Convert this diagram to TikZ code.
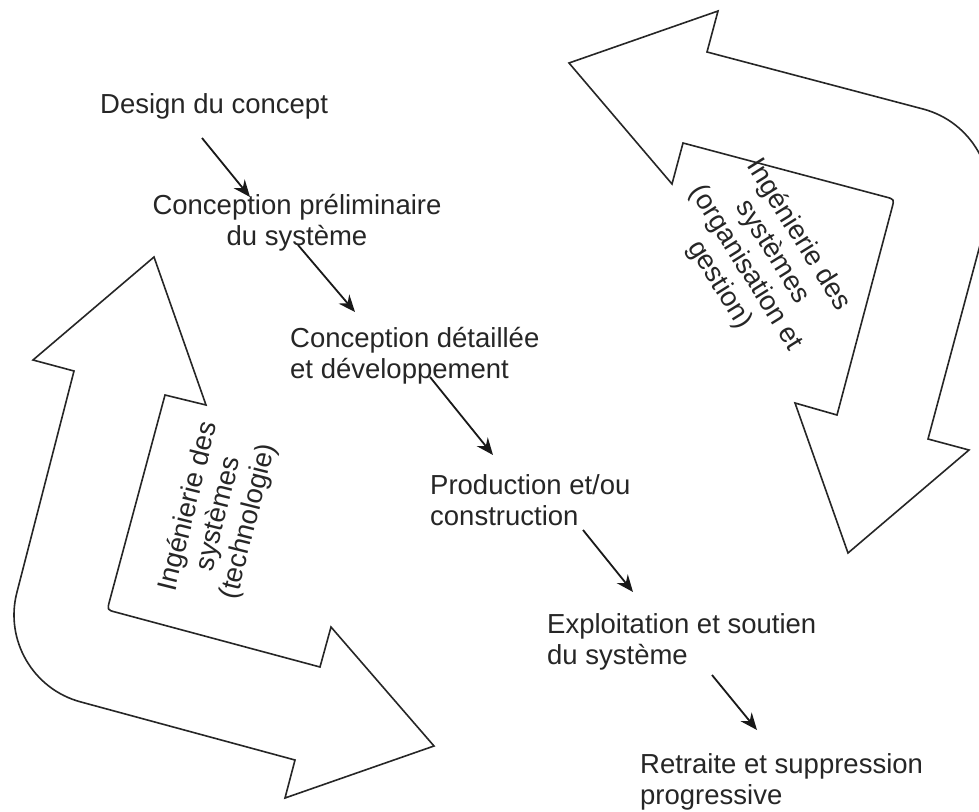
\documentclass[tikz,border=0pt]{standalone}
\usepackage{fontspec}
\setmainfont{Liberation Sans}
\usetikzlibrary{arrows.meta}
\begin{document}
\begin{tikzpicture}[x=1pt,y=-1pt,
  every node/.style={font=\fontsize{27.5}{31}\selectfont, text=black!85, inner sep=0pt},
  lbl/.style={anchor=base west, align=left},
  lblc/.style={anchor=base, align=center},
  bent/.style={draw=black!85, fill=white, line width=1.6pt, line join=miter},
  flow/.style={-{Stealth[length=17pt,width=14pt]}, line width=1.8pt, draw=black!90}]
\useasboundingbox (0,0) rectangle (979,811);
\clip (0,0) rectangle (979,811);
\fill[white] (0,0) rectangle (979,811);

% bent double arrow on the left (technology)
\draw[bent] (154,257) -- (206,405) -- (165,395) -- (109.5,601.2)
  .. controls (107.2,609.9) .. (115.9,612.2) -- (320,667) -- (331,627)
  -- (434,746) -- (285,798) -- (295,760) -- (81,702)
  .. controls (33,689.3) and (4.3,640) .. (17,592) -- (74,371) -- (33,360) -- cycle;

% bent double arrow on the right (organisation and management)
\draw[bent] (569,63) -- (718,11) -- (707,52) -- (923,109)
  .. controls (971,121.7) and (999.7,171) .. (987,219) -- (928,439) -- (969,450)
  -- (848,553) -- (795,403) -- (837,415) -- (892,207.9)
  .. controls (894.3,199.2) .. (885.6,196.9) -- (683,143) -- (672,184) -- cycle;

\node[align=center, rotate=76] (techno) at (219,514)
  {Ingénierie des\\systèmes\\(technologie)};
\node[align=center, rotate=-58] (orga) at (759,260)
  {Ingénierie des\\systèmes\\(organisation et\\gestion)};

% life-cycle phases (the base anchor sits on the last line)
\node[lbl] (design) at (100,113) {Design du concept};
\node[lblc] (prelim) at (297,245) {Conception préliminaire\\du système};
\node[lbl] (detail) at (290,378) {Conception détaillée\\et développement};
\node[lbl] (prod) at (430,525) {Production et/ou\\construction};
\node[lbl] (exploit) at (547,664) {Exploitation et soutien\\du système};
\node[lbl] (retrait) at (640,804) {Retraite et suppression\\progressive};

% phase transitions
\coordinate (a1s) at (202,138); \coordinate (a1e) at (250,197);
\coordinate (a2s) at (298,245); \coordinate (a2e) at (355,312);
\coordinate (a3s) at (430,377); \coordinate (a3e) at (493,455);
\coordinate (a4s) at (583,530); \coordinate (a4e) at (633,592);
\coordinate (a5s) at (712,675); \coordinate (a5e) at (757,730);
\draw[flow] (a1s) -- (a1e);
\draw[flow] (a2s) -- (a2e);
\draw[flow] (a3s) -- (a3e);
\draw[flow] (a4s) -- (a4e);
\draw[flow] (a5s) -- (a5e);
\end{tikzpicture}
\end{document}
